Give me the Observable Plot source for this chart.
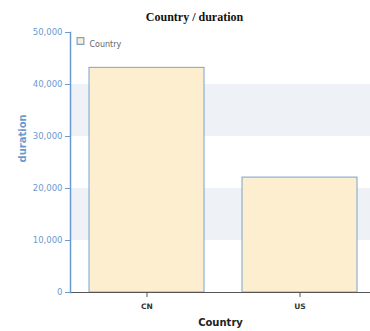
<!DOCTYPE html>
<html>
<head>
<meta charset="utf-8">
<script src="https://cdn.jsdelivr.net/npm/d3@7"></script>
<script src="https://cdn.jsdelivr.net/npm/@observablehq/plot@0.6"></script>
<style>
  html, body { margin: 0; padding: 0; background: #fff; overflow: hidden; }
</style>
</head>
<body>
<div id="chart"></div>
<script>
const countries = ["CN", "US"];
const durations = [43200, 22100];
const yTicks = [0, 10000, 20000, 30000, 40000, 50000];
const bandLows = [10000, 30000];
const bandHighs = [20000, 40000];

const data = countries.map((c, i) => ({country: c, duration: durations[i]}));
const bands = bandLows.map((lo, i) => ({y1: lo, y2: bandHighs[i]}));

const blue = "#6a9bd0";
const chart = Plot.plot({
  width: 370,
  height: 331,
  marginTop: 32,
  marginBottom: 39,
  marginLeft: 70,
  marginRight: 0,
  style: {fontFamily: "DejaVu Sans, sans-serif", background: "#fff"},
  x: {domain: countries, range: [70, 376], paddingInner: 0.25, paddingOuter: 0.125, align: 0.5, label: null},
  y: {domain: [0, 50000], label: null},
  marks: [
    Plot.rect(bands, {y1: "y1", y2: "y2", fill: "#eef2f7"}),
    Plot.barY(data, {x: "country", y: "duration", fill: "#fdeecf", stroke: "#78a4cc", strokeWidth: 1}),
    Plot.ruleY([0], {stroke: "#555", strokeWidth: 1}),
    Plot.frame({anchor: "left", stroke: blue, strokeWidth: 1.5}),
    Plot.axisY({ticks: yTicks, tickFormat: d3.format(","), tickSize: 5, tickPadding: 3, fontSize: 8.5, color: blue, stroke: blue, label: null}),
    Plot.axisX({tickSize: 5, tickPadding: 6, fontSize: 7.5, fontWeight: "bold", color: "#333", stroke: "#555", label: null}),
    Plot.text(["duration"], {frameAnchor: "left", dx: -48, rotate: -90, fontWeight: "bold", fontSize: 10, fill: blue}),
    Plot.text(["Country"], {frameAnchor: "bottom", dy: 33, fontWeight: "bold", fontSize: 10, fill: "#222"}),
    Plot.text(["Country / duration"], {frameAnchor: "top-left", dx: 124, dy: -20, textAnchor: "middle", fontFamily: "Liberation Serif, serif", fontWeight: "bold", fontSize: 12, fill: "#111"}),
    Plot.dot(["Country"], {frameAnchor: "top-left", dx: 10, dy: 8.5, symbol: "square", r: 3.8, fill: "#fdeecf", stroke: "#78a4cc", strokeWidth: 1.2}),
    Plot.text(["Country"], {frameAnchor: "top-left", dx: 19, dy: 8.5, textAnchor: "start", fontSize: 8, fill: "#666"})
  ]
});
document.getElementById("chart").appendChild(chart);
</script>
</body>
</html>
